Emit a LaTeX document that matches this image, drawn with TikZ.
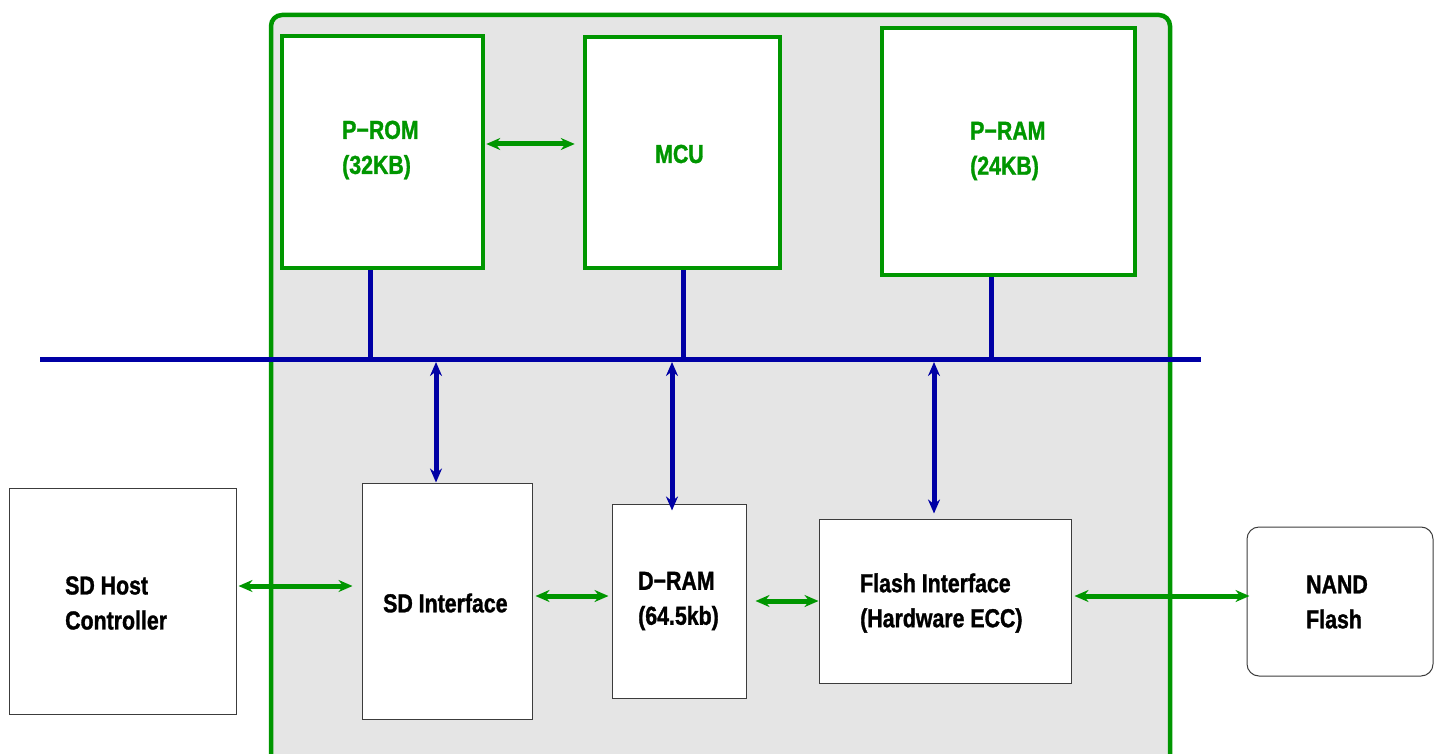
\documentclass[tikz,border=0pt]{standalone}
\usepackage{fontspec}
\setmainfont[FakeStretch=0.82, BoldFeatures={FakeBold=1.2}]{Liberation Sans}
\usetikzlibrary{arrows.meta}
\definecolor{chipgreen}{RGB}{0,150,0}
\definecolor{busblue}{RGB}{0,0,165}
\definecolor{chipgray}{RGB}{229,229,229}
\definecolor{edgegray}{RGB}{60,60,60}
\tikzset{
  blk/.style={draw=edgegray, line width=1pt, fill=white, inner sep=0pt},
  gblk/.style={draw=chipgreen, line width=4.5pt, fill=white, inner sep=0pt},
  lbl/.style={anchor=west, align=left, inner sep=0pt, font=\fontsize{26}{35}\selectfont\bfseries},
  glbl/.style={lbl, text=chipgreen},
  garrow/.style={draw=chipgreen, line width=5pt, {Stealth[length=14pt,width=12pt]}-{Stealth[length=14pt,width=12pt]}},
  barrow/.style={draw=busblue, line width=5pt, {Stealth[length=14pt,width=12pt]}-{Stealth[length=14pt,width=12pt]}},
  busline/.style={draw=busblue, line width=5pt}
}
\begin{document}
\begin{tikzpicture}[x=1pt,y=-1pt]
\useasboundingbox (0,0) rectangle (1439,754);
% chip outline
\draw[draw=chipgreen, fill=chipgray, line width=4.5pt, rounded corners=11pt] (271,15) rectangle (1170,790);
% upper blocks
\node[gblk, minimum width=201pt, minimum height=232pt] (prom) at (382.5,152) {};
\node[gblk, minimum width=195pt, minimum height=231pt] (mcu) at (682.5,152.5) {};
\node[gblk, minimum width=253pt, minimum height=247pt] (pram) at (1008.5,151.5) {};
\node[glbl] (promt) at (342,150) {P−ROM\\(32KB)};
\node[glbl] (mcut) at (655,154) {MCU};
\node[glbl] (pramt) at (970,151) {P−RAM\\(24KB)};
% lower blocks
\node[blk, minimum width=227pt, minimum height=226pt] (host) at (122.5,601) {};
\node[blk, minimum width=170pt, minimum height=236pt] (sdif) at (447,601) {};
\node[blk, minimum width=134pt, minimum height=194pt] (dram) at (679,601) {};
\node[blk, minimum width=252pt, minimum height=164pt] (flif) at (945,601) {};
\node[blk, rounded corners=12pt, minimum width=186pt, minimum height=149pt] (nand) at (1340,601.5) {};
\node[lbl] (hostt) at (65,603) {SD Host\\Controller};
\node[lbl] (sdift) at (383,603) {SD Interface};
\node[lbl] (dramt) at (638,601) {D−RAM\\(64.5kb)};
\node[lbl] (flift) at (860,603) {Flash Interface\\(Hardware ECC)};
\node[lbl] (nandt) at (1306,602) {NAND\\Flash};
% bus
\coordinate (busL) at (40,359);
\coordinate (busR) at (1201,359);
\draw[busline] (busL) -- (busR);
\draw[busline] (prom.south -| 370,0) -- (370,0 |- busL);
\draw[busline] (mcu.south -| 683,0) -- (683,0 |- busL);
\draw[busline] (pram.south -| 991,0) -- (991,0 |- busL);
% bus to lower blocks
\draw[barrow] (436,362) -- (sdif.north -| 436,0);
\draw[barrow] (672,362) -- ([yshift=-7pt]dram.north -| 672,0);
\draw[barrow] (934,362) -- ([yshift=5pt]flif.north -| 934,0);
% green links
\draw[garrow] ([xshift=1pt]prom.east |- 0,144) -- ([xshift=-8pt]mcu.west |- 0,144);
\draw[garrow] ([xshift=2pt]host.east |- 0,586) -- ([xshift=-9pt]sdif.west |- 0,586);
\draw[garrow] ([xshift=3pt]sdif.east |- 0,596) -- ([xshift=-3pt]dram.west |- 0,596);
\draw[garrow] ([xshift=9pt]dram.east |- 0,601) -- (flif.west |- 0,601);
\draw[garrow] ([xshift=3pt]flif.east |- 0,596) -- ([xshift=3pt]nand.west |- 0,596);
\end{tikzpicture}
\end{document}
